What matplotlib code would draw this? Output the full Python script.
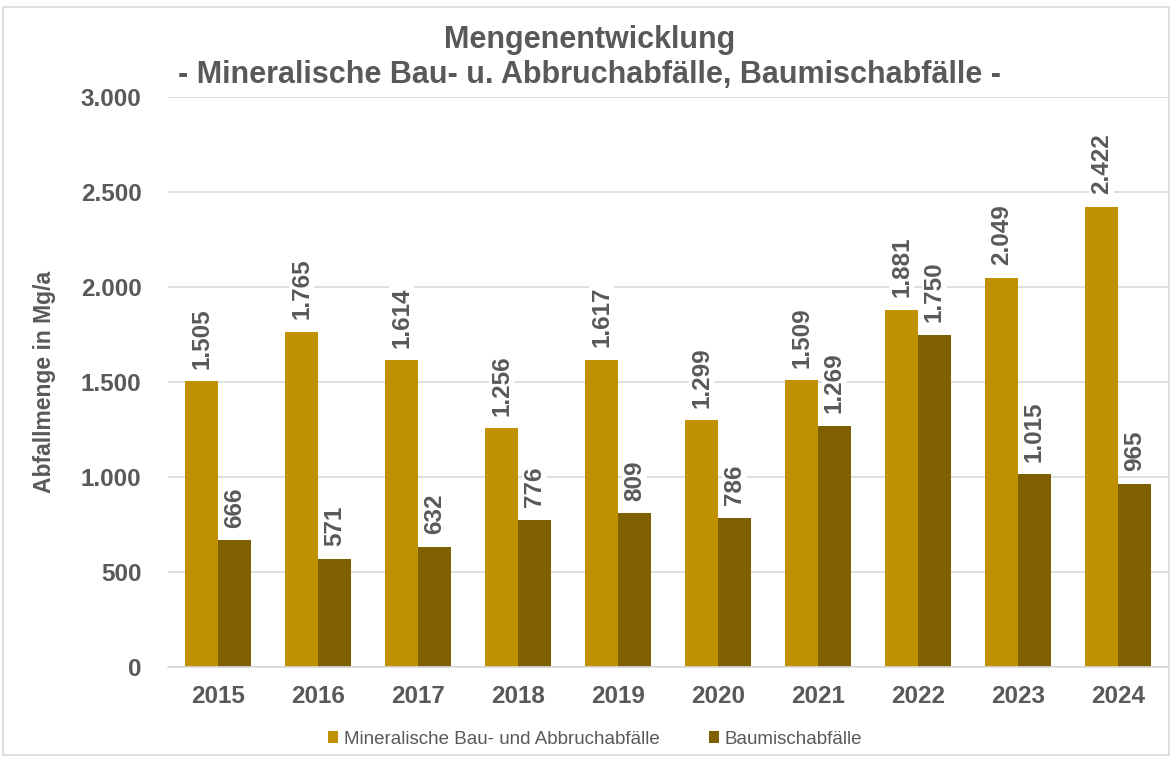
import matplotlib.pyplot as plt
import numpy as np
from matplotlib.patches import Rectangle

plt.rcParams['font.family'] = ['Liberation Sans', 'DejaVu Sans']

years = ["2015", "2016", "2017", "2018", "2019", "2020", "2021", "2022", "2023", "2024"]
mineral = [1505, 1765, 1614, 1256, 1617, 1299, 1509, 1881, 2049, 2422]
baumisch = [666, 571, 632, 776, 809, 786, 1269, 1750, 1015, 965]

GOLD = "#BF9000"
BROWN = "#7F6000"
TEXT = "#595959"


def fmt(v):
    return "{:,}".format(v).replace(",", ".")


fig = plt.figure(figsize=(11.73, 7.58), dpi=100)
ax = fig.add_axes([168 / 1173, 1 - 667 / 758, 1000 / 1173, 570 / 758])

# chart frame
fig.patches.append(Rectangle((3 / 1173, 3 / 758), 1166 / 1173, 748 / 758,
                             transform=fig.transFigure, fill=False,
                             edgecolor="#D9D9D9", linewidth=1.2))

ind = np.arange(len(years))
width = 0.33
b1 = ax.bar(ind - width / 2, mineral, width, color=GOLD,
            label="Mineralische Bau- und Abbruchabfälle", zorder=2)
b2 = ax.bar(ind + width / 2, baumisch, width, color=BROWN,
            label="Baumischabfälle", zorder=2)

for bars, vals in ((b1, mineral), (b2, baumisch)):
    for rect, v in zip(bars, vals):
        ax.annotate(fmt(v), (rect.get_x() + rect.get_width() / 2, v),
                    xytext=(0, 9), textcoords="offset points",
                    rotation=90, ha="center", va="bottom",
                    fontsize=17.5, fontweight="bold", color=TEXT, zorder=3,
                    bbox=dict(facecolor="white", edgecolor="none", pad=1))

ax.set_xlim(-0.5, len(years) - 0.5)
ax.set_ylim(0, 3000)
ax.set_yticks(np.arange(0, 3001, 500))
ax.set_yticklabels([fmt(v) for v in range(0, 3001, 500)])
ax.set_xticks(ind)
ax.set_xticklabels(years)
ax.tick_params(axis="both", length=0, labelsize=17.5, labelcolor=TEXT)
for lab in ax.get_xticklabels() + ax.get_yticklabels():
    lab.set_fontweight("bold")
ax.xaxis.set_tick_params(pad=13)
ax.yaxis.set_tick_params(pad=19)

ax.grid(axis="y", color="#D9D9D9", linewidth=1.2, zorder=0)
ax.set_axisbelow(True)
for s in ("top", "right", "left"):
    ax.spines[s].set_visible(False)
ax.spines["bottom"].set_color("#D9D9D9")
ax.spines["bottom"].set_linewidth(1.2)

ax.set_ylabel("Abfallmenge in Mg/a", fontsize=16.5, fontweight="bold", color=TEXT)
ax.yaxis.set_label_coords(-0.112, 0.5)

fig.text(590 / 1173, 1 - 40 / 758, "Mengenentwicklung", ha="center", va="center",
         fontsize=22, fontweight="bold", color=TEXT)
fig.text(590 / 1173, 1 - 75 / 758,
         "- Mineralische Bau- u. Abbruchabfälle, Baumischabfälle -",
         ha="center", va="center", fontsize=22, fontweight="bold", color=TEXT)

fig.legend(handles=[b1, b2], loc="center", bbox_to_anchor=(595 / 1173, 1 - 739 / 758),
           ncol=2, frameon=False, fontsize=13.5, handlelength=0.55, handleheight=0.55,
           handletextpad=0.3, columnspacing=2.6, labelcolor=TEXT)

fig.savefig("out.png", dpi=100)
